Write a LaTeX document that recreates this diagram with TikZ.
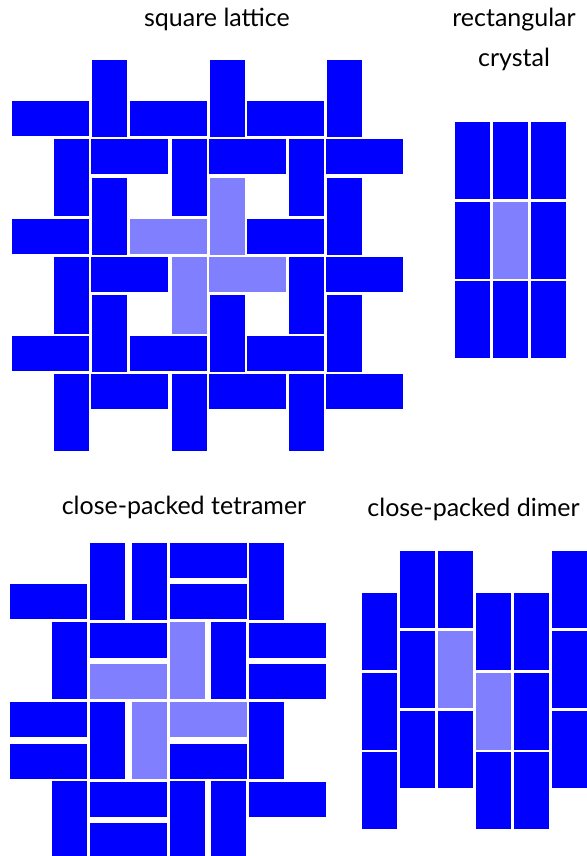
\documentclass[tikz,border=0pt]{standalone}
\usepackage{fontspec}
\setmainfont{Lato}
\tikzset{
  dimer/.style={fill=blue, draw=none},
  marked/.style={fill=blue!50, draw=none},
  title/.style={anchor=base, font=\fontsize{25}{30}\selectfont},
}
\begin{document}
\begin{tikzpicture}[x=1pt, y=-1pt]
  \useasboundingbox (0,0) rectangle (586,856);

  % 1. Square lattice: 3x3 cells of four dimers each
  \node[title] (sqtitle) at (217,27) {square lattice};
  \foreach \i in {0,1,2} {
    \foreach \j in {0,1,2} {
      \fill[dimer] ({92+117.5*\i}, {60+117.5*\j}) rectangle ++(35,77);
      \fill[dimer] ({12+117.5*\i}, {101+117.5*\j}) rectangle ++(77,35);
      \fill[dimer] ({54+117.5*\i}, {139+117.5*\j}) rectangle ++(35,77);
      \fill[dimer] ({91+117.5*\i}, {139+117.5*\j}) rectangle ++(77,35);
    }
  }
  % centre cell (light)
  \fill[marked] (209.5,177.5) rectangle ++(35,77);
  \fill[marked] (129.5,218.5) rectangle ++(77,35);
  \fill[marked] (171.5,256.5) rectangle ++(35,77);
  \fill[marked] (208.5,256.5) rectangle ++(77,35);

  % 2. Rectangular crystal
  \node[title] (recttitle) at (514,27) {rectangular};
  \node[title] (recttitleb) at (514,66.5) {crystal};
  \foreach \i in {0,1,2} {
    \foreach \j in {0,1,2} {
      \fill[dimer] ({455+38*\i}, {122+79.5*\j}) rectangle ++(35,77);
    }
  }
  \fill[marked] (493,201.5) rectangle ++(35,77);

  % 3. Close-packed tetramer
  \node[title] (tettitle) at (184,514) {close-packed tetramer};
  % upright dimers
  \foreach \x/\y in {90/543, 132/543, 249/543, 52/622, 211/622,
                     90/702, 249/702, 52/781, 170/781, 211/781} {
    \fill[dimer] (\x,\y) rectangle ++(35,77);
  }
  % lying dimers
  \foreach \x/\y in {170/543, 10/584, 170/584, 90/623, 249/623, 249/664,
                     10/702, 10/744, 170/744, 90/782, 249/782, 90/823} {
    \fill[dimer] (\x,\y) rectangle ++(77,35);
  }
  % the tetramer (light)
  \fill[marked] (170,622) rectangle ++(35,77);
  \fill[marked] (132,702) rectangle ++(35,77);
  \fill[marked] (90,664) rectangle ++(77,35);
  \fill[marked] (170,702) rectangle ++(77,35);

  % 4. Close-packed dimer
  \node[title] (dimtitle) at (473.5,516) {close-packed dimer};
  \foreach \x in {362,476,514} {
    \foreach \y in {593,672.5,752} {
      \fill[dimer] (\x,\y) rectangle ++(35,77);
    }
  }
  \foreach \x in {400,438,552} {
    \foreach \y in {551,631,711} {
      \fill[dimer] (\x,\y) rectangle ++(35,77);
    }
  }
  \fill[marked] (438,631) rectangle ++(35,77);
  \fill[marked] (476,672.5) rectangle ++(35,77);
\end{tikzpicture}
\end{document}
